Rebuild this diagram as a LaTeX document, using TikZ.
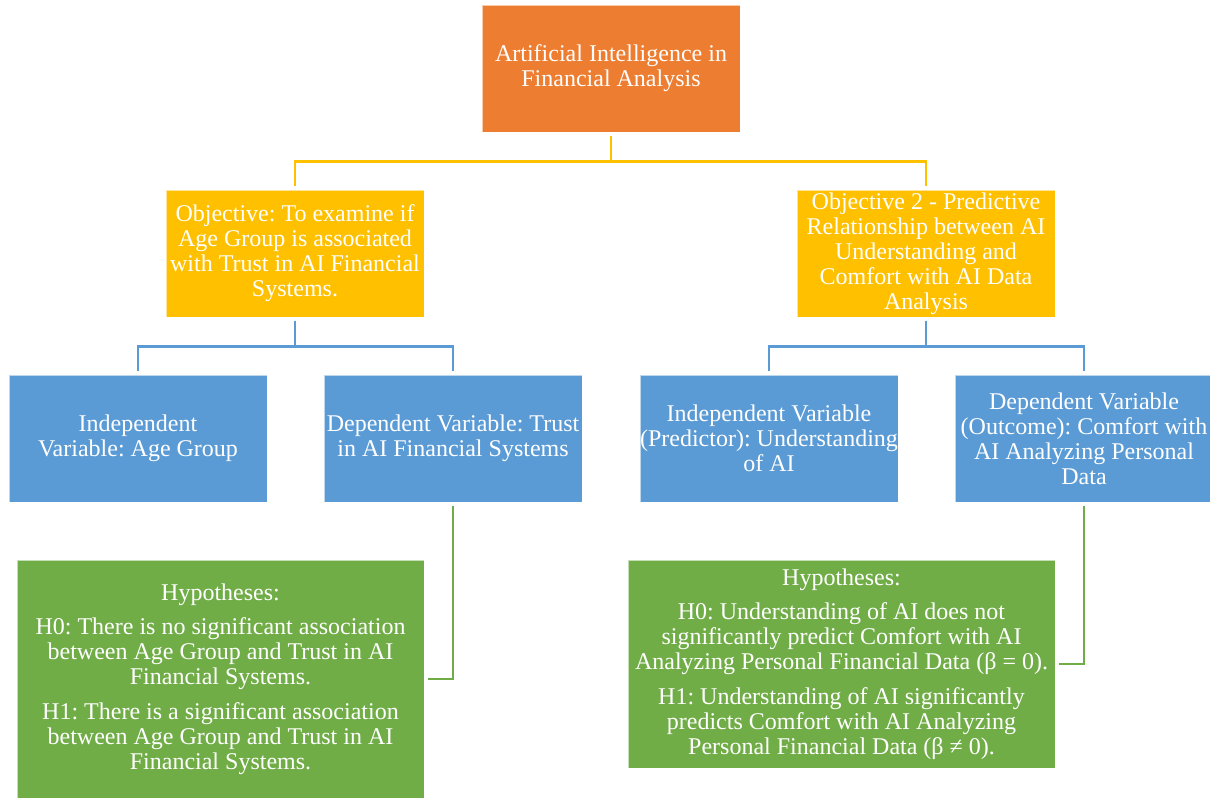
\documentclass[tikz,border=0pt]{standalone}
\usepackage{fontspec}
\setmainfont{Liberation Serif}
\frenchspacing
\definecolor{cOrange}{HTML}{ED7D31}
\definecolor{cYellow}{HTML}{FFC000}
\definecolor{cBlue}{HTML}{5B9BD5}
\definecolor{cGreen}{HTML}{70AD47}
\begin{document}
\begin{tikzpicture}[x=0.75pt,y=-0.75pt,
  box/.style={draw=white, draw opacity=0.6, line width=0.6pt, text=white, align=center,
    inner sep=0pt, minimum width=193.5pt, minimum height=95.25pt,
    font=\fontsize{18pt}{18.75pt}\selectfont\frenchspacing},
  topbox/.style={box, fill=cOrange},
  objbox/.style={box, fill=cYellow},
  varbox/.style={box, fill=cBlue},
  hypbox/.style={box, fill=cGreen},
  yline/.style={draw=cYellow, line width=1.7pt, shorten <=2.5pt, shorten >=2.5pt},
  bline/.style={draw=cBlue, line width=1.7pt, shorten <=2.5pt, shorten >=2.5pt},
  gline/.style={draw=cGreen, line width=1.7pt, shorten <=2.5pt, shorten >=2.5pt}
]
\useasboundingbox (0,0) rectangle (1210,798);
\clip (0,0) rectangle (1210,798);

\node[topbox] (top) at (611,68.5) {Artificial Intelligence in\\Financial Analysis};

\node[objbox] (obj1) at (295,253.5) {Objective: To examine if\\Age Group is associated\\with Trust in AI Financial\\Systems.};
\node[objbox] (obj2) at (926,253.5) {Objective 2 - Predictive\\Relationship between AI\\Understanding and\\Comfort with AI Data\\Analysis};

\node[varbox] (iv1) at (138,438.5) {Independent\\Variable: Age Group};
\node[varbox] (dv1) at (453,438.5) {Dependent Variable: Trust\\in AI Financial Systems};
\node[varbox] (iv2) at (769,438.5) {Independent Variable\\(Predictor): Understanding\\of AI};
\node[varbox] (dv2) at (1084,438.5) {Dependent Variable\\(Outcome): Comfort with\\AI Analyzing Personal\\Data};

\node[hypbox, minimum width=305.25pt, minimum height=178.5pt] (h1) at (220.5,679) {Hypotheses:\\[7pt]H0: There is no significant association\\between Age Group and Trust in AI\\Financial Systems.\\[7pt]H1: There is a significant association\\between Age Group and Trust in AI\\Financial Systems.};
\node[hypbox, minimum width=320.25pt, minimum height=156pt] (h2) at (841.5,664) {Hypotheses:\\[7pt]H0: Understanding of AI does not\\significantly predict Comfort with AI\\Analyzing Personal Financial Data (β = 0).\\[7pt]H1: Understanding of AI significantly\\predicts Comfort with AI Analyzing\\Personal Financial Data (β ≠ 0).};

\draw[yline] (top.south) -- ++(0,29) -| (obj1.north);
\draw[yline] (top.south) -- ++(0,29) -| (obj2.north);
\draw[bline] (obj1.south) -- ++(0,29) -| (iv1.north);
\draw[bline] (obj1.south) -- ++(0,29) -| (dv1.north);
\draw[bline] (obj2.south) -- ++(0,29) -| (iv2.north);
\draw[bline] (obj2.south) -- ++(0,29) -| (dv2.north);
\draw[gline] (dv1.south) |- (h1.east);
\draw[gline] (dv2.south) |- (h2.east);
\end{tikzpicture}
\end{document}
